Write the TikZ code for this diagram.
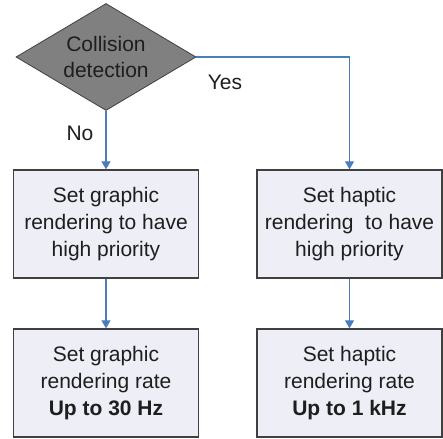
\documentclass[tikz,border=0pt]{standalone}
\usepackage{fontspec}
\setmainfont{Liberation Sans}
\usepackage{tikz}
\usetikzlibrary{shapes.geometric}
\usetikzlibrary{arrows.meta}
\definecolor{boxfill}{HTML}{EDEEF6}
\definecolor{edgegray}{HTML}{404040}
\definecolor{decfill}{HTML}{808080}
\definecolor{flowblue}{HTML}{4A7EBB}
\definecolor{inkgray}{HTML}{1E1E1E}

\begin{document}
\begin{tikzpicture}[x=1pt, y=1pt,
    txt/.style={text=inkgray, font=\fontsize{21}{26.7}\selectfont},
    box/.style={txt, draw=edgegray, line width=1.3pt, fill=boxfill, align=center,
                minimum width=185pt, minimum height=108pt, inner sep=0pt},
    decision/.style={txt, diamond, draw=edgegray, line width=0.8pt, fill=decfill, align=center,
                     aspect=1.68, inner sep=0pt, minimum width=180pt, minimum height=107pt},
    flow/.style={draw=flowblue, line width=1.1pt, -{Triangle[length=8pt, width=9pt, fill=flowblue]}}]
                      \useasboundingbox (0,0) rectangle (443,-438);
                      \node[decision] (dec) at (106,-57) {Collision\\detection};
                      \node[box] (gprio) at (106,-224) {Set graphic\\rendering to have\\high priority};
                      \node[box] (hprio) at (349.5,-224) {Set haptic\\rendering\ \ to have\\high priority};
                      \node[box] (grate) at (106,-383) {Set graphic\\rendering rate\\\textbf{Up to 30 Hz}};
                      \node[box] (hrate) at (349.5,-383) {Set haptic\\rendering rate\\\textbf{Up to 1 kHz}};
                      \node[txt] (no) at (80,-133) {No};
                      \node[txt] (yes) at (225,-82) {Yes};
                      \draw[flow] (dec.south) -- (gprio.north);
                      \draw[flow] (dec.east) -| (hprio.north);
                      \draw[flow] (gprio.south) -- (grate.north);
                      \draw[flow] (hprio.south) -- (hrate.north);
                  \end{tikzpicture}
\end{document}
